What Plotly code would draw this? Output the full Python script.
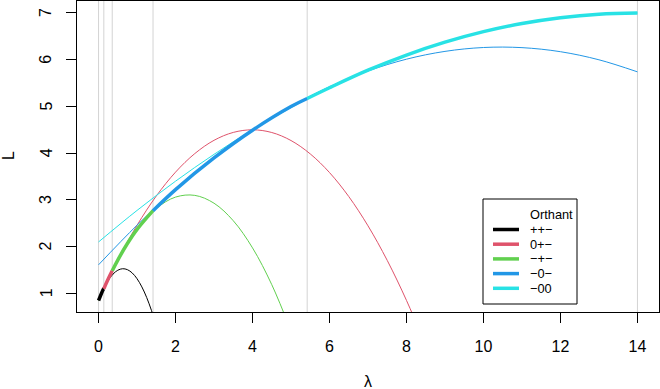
import plotly.graph_objects as go

# orthant labels and colours (R 4 palette)
orthants = ["++\u2212", "0+\u2212", "\u2212+\u2212", "\u22120\u2212", "\u221200"]
colors = ["#000000", "#DF536B", "#61D04F", "#2297E6", "#28E2E5"]

# L(lambda) for each orthant
lam_black = [0, 0.125, 0.25, 0.375, 0.5, 0.625, 0.75, 0.875, 1.0, 1.125, 1.25, 1.375, 1.5]
L_black = [0.850, 1.089, 1.276, 1.411, 1.495, 1.527, 1.507, 1.436, 1.313, 1.138, 0.912, 0.634, 0.304]

lam_red = [0, 0.25, 0.5, 1.0, 1.5, 2.0, 2.5, 3.0, 3.5, 4.0, 4.5, 5.0, 5.5, 6.0, 6.5, 7.0, 7.5, 8.0, 8.5]
L_red = [0.867, 1.308, 1.720, 2.458, 3.083, 3.594, 3.991, 4.275, 4.444, 4.500, 4.442, 4.270,
         3.984, 3.585, 3.072, 2.445, 1.704, 0.849, -0.119]

lam_green = [0, 0.25, 0.5, 0.75, 1.0, 1.5, 2.0, 2.5, 3.0, 3.5, 4.0, 4.5, 5.0]
L_green = [0.851, 1.308, 1.713, 2.066, 2.368, 2.817, 3.060, 3.097, 2.929, 2.554, 1.973, 1.186, 0.193]

lam_blue = [0, 1, 2, 3, 4, 5, 6, 7, 8, 9, 10, 11, 12, 13, 14]
L_blue = [1.611, 2.459, 3.221, 3.898, 4.491, 4.998, 5.421, 5.758, 6.011, 6.178, 6.261, 6.258,
          6.171, 5.998, 5.740]

lam_cyan = [0, 1, 2, 3, 4, 5, 6, 7, 8, 9, 10, 11, 12, 13, 14]
L_cyan = [2.100, 2.775, 3.400, 3.975, 4.500, 4.975, 5.400, 5.775, 6.100, 6.375, 6.600, 6.775,
          6.900, 6.975, 7.000]

# breakpoints of the path and the path value there
breaks = [0, 0.137, 0.355, 1.415, 5.42, 14]
path_L = [0.847, 1.10, 1.484, 2.77, 5.17, 7.0]

x_ticks = [0, 2, 4, 6, 8, 10, 12, 14]
y_ticks = [1, 2, 3, 4, 5, 6, 7]

curves = [(lam_black, L_black), (lam_red, L_red), (lam_green, L_green),
          (lam_blue, L_blue), (lam_cyan, L_cyan)]

FONT = "Liberation Sans, Arial, sans-serif"

fig = go.Figure()

# thin: each orthant's curve over the whole range
for (lx, ly), col in zip(curves, colors):
    fig.add_trace(go.Scatter(x=lx, y=ly, mode="lines", line=dict(color=col, width=1, shape="spline"),
                             showlegend=False, hoverinfo="skip"))

# thick: the path, piece by piece
for i, ((lx, ly), col) in enumerate(zip(curves, colors)):
    a, b = breaks[i], breaks[i + 1]
    xs = [a] + [x for x in lx if a < x < b] + [b]
    ys = [path_L[i]] + [y for x, y in zip(lx, ly) if a < x < b] + [path_L[i + 1]]
    fig.add_trace(go.Scatter(x=xs, y=ys, mode="lines", line=dict(color=col, width=3.5, shape="spline"),
                             showlegend=False, name=orthants[i]))

# plot area in pixels
PL, PR, PT, PB = 77, 659, 1, 312


def fx(px):
    return (px - PL) / (PR - PL)


def fy(py):
    return (PB - py) / (PB - PT)


# grey lines at the breakpoints
shapes = [dict(type="line", xref="x", yref="paper", x0=b, x1=b, y0=0, y1=1,
               line=dict(color="#D3D3D3", width=1), layer="below") for b in breaks]

# legend box drawn by hand, R style
shapes.append(dict(type="rect", xref="paper", yref="paper", x0=fx(483), x1=fx(577), y0=fy(304), y1=fy(199),
                   line=dict(color="black", width=1), fillcolor="white", layer="above"))
annotations = [dict(text="Orthant", xref="paper", yref="paper", x=fx(528), y=fy(214),
                    xanchor="left", yanchor="middle", showarrow=False, font=dict(size=12.8, color="black"))]
for i, (name, col) in enumerate(zip(orthants, colors)):
    yy = fy(229.5 + 14.7 * i)
    shapes.append(dict(type="line", xref="paper", yref="paper", x0=fx(493), x1=fx(519), y0=yy, y1=yy,
                       line=dict(color=col, width=3.5), layer="above"))
    annotations.append(dict(text=name, xref="paper", yref="paper", x=fx(528), y=yy,
                            xanchor="left", yanchor="middle", showarrow=False,
                            font=dict(size=12.8, color="black")))

# y tick labels, turned like R's default (parallel to the axis)
for t in y_ticks:
    annotations.append(dict(text=str(t), xref="paper", yref="y", x=fx(46), y=t, textangle=-90,
                            xanchor="center", yanchor="middle", showarrow=False, font=dict(size=16)))

# axis titles
annotations.append(dict(text="\u03bb", xref="paper", yref="paper", x=fx(367.5), y=fy(381),
                        xanchor="center", yanchor="middle", showarrow=False, font=dict(size=16)))
annotations.append(dict(text="L", xref="paper", yref="paper", x=fx(8), y=fy(156), textangle=-90,
                        xanchor="center", yanchor="middle", showarrow=False, font=dict(size=16)))

fig.update_layout(
    width=660, height=389,
    margin=dict(l=PL, r=660 - PR, t=PT, b=389 - PB, autoexpand=False),
    plot_bgcolor="white", paper_bgcolor="white",
    font=dict(family=FONT, size=16, color="black"),
    shapes=shapes, annotations=annotations,
    showlegend=False,
)
fig.update_xaxes(range=[-0.56, 14.56], tickvals=x_ticks, ticks="outside", ticklen=10, tickcolor="black",
                 showline=True, linecolor="black", linewidth=1, mirror=True, automargin=False,
                 showgrid=False, zeroline=False, ticklabelstandoff=10, tickfont=dict(size=16))
fig.update_yaxes(range=[0.601, 7.256], tickvals=y_ticks, ticks="outside", ticklen=10, tickcolor="black",
                 showline=True, linecolor="black", linewidth=1, mirror=True, automargin=False,
                 showticklabels=False, showgrid=False, zeroline=False)

# page body has an 8px default margin; drop it so the figure sits at the window corner
fig.write_html("out.html", config={"displayModeBar": False},
               post_script="document.body.style.margin='0px';")
